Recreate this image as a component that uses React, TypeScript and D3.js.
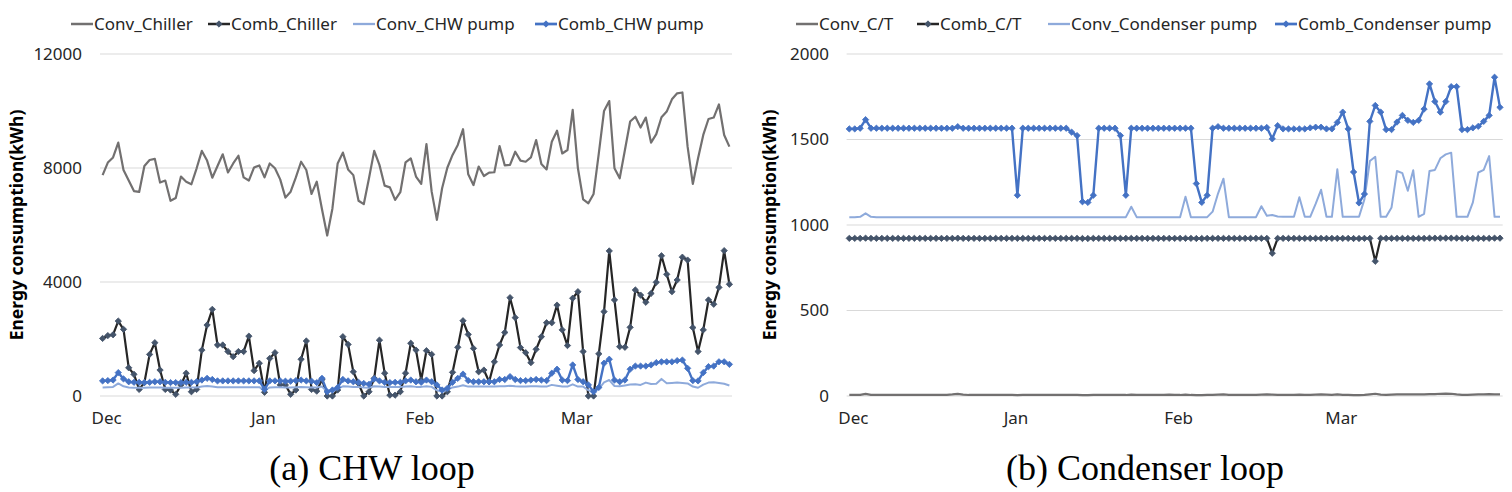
import * as d3 from "d3";

// daily categories, Dec 1 .. Mar 31
const days = d3.range(121);
const monthLabels = ["Dec", "Jan", "Feb", "Mar"];
const monthTickIdx = [0, 30, 60, 90];

// (a) CHW loop, kWh
const convChiller = [
  7750, 8190, 8370, 8890, 7930, 7560, 7190, 7160, 8070, 8280,
  8320, 7490, 7560, 6850, 6950, 7700, 7520, 7430, 7990, 8600,
  8260, 7660, 8070, 8480, 7840, 8160, 8430, 7670, 7560, 8020,
  8090, 7670, 8160, 7990, 7600, 6960, 7170, 7670, 8220, 7930,
  7090, 7520, 6550, 5630, 6580, 8160, 8540, 7950, 7750, 6850,
  6730, 7640, 8600, 8110, 7380, 7320, 6880, 7150, 8200, 8340,
  7700, 7440, 8840, 7170, 6180, 7290, 8010, 8460, 8810, 9360,
  7780, 7400, 8050, 7720, 7840, 7850, 8770, 8090, 8110, 8570,
  8260, 8220, 8370, 8980, 8140, 7950, 8920, 9310, 8510, 8630,
  10040, 7990, 6900, 6760, 7090, 8510, 10000, 10350, 7990, 7640,
  8630, 9630, 9800, 9420, 9770, 8890, 9190, 9780, 9980, 10410,
  10620, 10650, 8750, 7440, 8340, 9160, 9720, 9770, 10230, 9160, 8750,
];
const combChiller = [
  2020, 2120, 2150, 2630, 2340, 990, 760, 230, 470, 1460,
  1870, 910, 230, 210, 60, 390, 800, 150, 230, 1610,
  2490, 3040, 1790, 1790, 1560, 1380, 1560, 1560, 2100, 890,
  1150, 130, 1320, 1520, 390, 390, 60, 210, 1290, 1930,
  230, 170, 580, 0, 0, 210, 2080, 1810, 850, 440,
  0, 150, 620, 1960, 800, 30, 30, 150, 800, 1850,
  1610, 560, 1590, 1460, 0, 0, 150, 830, 1710, 2640,
  2160, 1670, 850, 910, 500, 1200, 1790, 2230, 3450, 2750,
  1700, 1520, 1170, 1640, 2080, 2570, 2570, 3190, 2320, 1770,
  3430, 3660, 1560, 0, 0, 1480, 2960, 5090, 3370, 1730,
  1710, 2410, 3720, 3540, 3290, 3600, 3990, 4920, 4270, 3660,
  4070, 4870, 4770, 2400, 1560, 2320, 3370, 3220, 3810, 5100, 3920,
];
const convChwPump = [
  300, 310, 320, 440, 340, 300, 290, 290, 290, 300,
  300, 300, 290, 290, 290, 290, 300, 300, 300, 330,
  350, 330, 310, 310, 310, 310, 310, 310, 310, 310,
  310, 200, 300, 310, 310, 300, 300, 310, 320, 310,
  300, 300, 330, 150, 170, 260, 340, 330, 320, 320,
  300, 290, 340, 330, 320, 320, 320, 320, 330, 340,
  320, 320, 340, 320, 200, 150, 220, 300, 330, 380,
  330, 330, 330, 330, 330, 330, 340, 340, 360, 340,
  330, 330, 340, 340, 330, 330, 390, 360, 330, 330,
  410, 330, 330, 200, 150, 250, 480, 560, 350, 340,
  370, 400, 410, 390, 470, 420, 430, 600, 450, 460,
  470, 460, 440, 330, 290, 400, 470, 480, 460, 430, 370,
];
const combChwPump = [
  530, 540, 560, 820, 600, 500, 480, 480, 470, 480,
  500, 500, 480, 470, 470, 470, 480, 480, 500, 560,
  620, 580, 530, 530, 530, 530, 530, 530, 530, 530,
  530, 230, 530, 530, 530, 520, 520, 540, 560, 530,
  520, 470, 620, 150, 210, 300, 580, 530, 500, 480,
  440, 410, 600, 530, 480, 470, 480, 480, 530, 560,
  500, 480, 560, 500, 390, 210, 270, 480, 620, 770,
  540, 500, 500, 500, 500, 500, 580, 580, 680, 580,
  540, 540, 560, 580, 560, 540, 800, 940, 560, 540,
  1090, 580, 500, 390, 150, 300, 1150, 1290, 560, 500,
  560, 940, 1050, 1050, 1050, 1090, 1170, 1200, 1200, 1200,
  1240, 1260, 970, 540, 530, 820, 1030, 1050, 1200, 1200, 1110,
];

// (b) Condenser loop, kWh
const convCT = [
  6, 6, 7, 12, 7, 6, 6, 6, 6, 6,
  6, 6, 6, 6, 6, 6, 6, 6, 7, 9,
  12, 8, 6, 6, 6, 6, 6, 6, 6, 6,
  6, 5, 6, 6, 6, 6, 6, 6, 6, 6,
  6, 6, 6, 5, 5, 6, 7, 7, 6, 6,
  6, 6, 8, 7, 6, 6, 6, 6, 7, 8,
  7, 6, 8, 6, 5, 5, 6, 7, 8, 9,
  7, 7, 7, 7, 7, 7, 8, 9, 8, 7,
  7, 7, 7, 8, 7, 7, 8, 9, 8, 7,
  9, 7, 6, 5, 5, 7, 10, 13, 8, 7,
  8, 9, 9, 9, 9, 9, 10, 11, 11, 13,
  14, 13, 9, 7, 7, 8, 9, 10, 11, 10, 9,
];
const combCT = [
  922, 922, 922, 923, 922, 922, 922, 922, 922, 922,
  922, 922, 922, 922, 922, 922, 922, 922, 922, 922,
  923, 922, 922, 922, 922, 922, 922, 922, 922, 922,
  922, 922, 922, 922, 922, 922, 922, 922, 922, 922,
  922, 922, 922, 921, 921, 922, 922, 922, 922, 922,
  922, 922, 922, 922, 922, 922, 922, 922, 922, 922,
  922, 922, 922, 922, 921, 921, 922, 922, 922, 922,
  922, 922, 922, 922, 922, 922, 922, 922, 835, 922,
  922, 922, 922, 922, 922, 922, 922, 922, 922, 922,
  922, 922, 922, 921, 921, 922, 922, 788, 922, 922,
  922, 922, 922, 922, 922, 922, 922, 923, 923, 923,
  923, 923, 923, 922, 922, 922, 922, 922, 922, 923, 923,
];
const convCondPump = [
  1045, 1045, 1048, 1068, 1048, 1046, 1046, 1046, 1046, 1046,
  1046, 1046, 1046, 1046, 1046, 1046, 1046, 1046, 1046, 1046,
  1046, 1046, 1046, 1046, 1046, 1046, 1046, 1046, 1046, 1046,
  1046, 1046, 1046, 1046, 1046, 1046, 1046, 1046, 1046, 1046,
  1046, 1046, 1046, 1046, 1046, 1046, 1046, 1046, 1046, 1046,
  1046, 1046, 1107, 1046, 1046, 1046, 1046, 1046, 1046, 1046,
  1046, 1046, 1165, 1046, 1046, 1046, 1046, 1078, 1184, 1271,
  1046, 1046, 1046, 1046, 1046, 1046, 1110, 1054, 1058, 1050,
  1048, 1048, 1048, 1162, 1048, 1048, 1123, 1206, 1048, 1048,
  1326, 1048, 1048, 1048, 1048, 1150, 1374, 1399, 1048, 1048,
  1103, 1316, 1303, 1200, 1320, 1048, 1065, 1316, 1322, 1390,
  1413, 1423, 1048, 1048, 1048, 1132, 1307, 1322, 1403, 1048, 1048,
];
const combCondPump = [
  1562, 1562, 1566, 1616, 1566, 1566, 1566, 1566, 1566, 1566,
  1566, 1566, 1566, 1566, 1566, 1566, 1566, 1566, 1566, 1566,
  1575, 1566, 1566, 1566, 1566, 1566, 1566, 1566, 1566, 1566,
  1566, 1174, 1566, 1566, 1566, 1566, 1566, 1566, 1566, 1566,
  1566, 1543, 1523, 1136, 1132, 1174, 1566, 1566, 1566, 1566,
  1523, 1174, 1566, 1566, 1566, 1566, 1566, 1566, 1566, 1566,
  1566, 1566, 1566, 1566, 1242, 1132, 1174, 1566, 1575, 1566,
  1566, 1566, 1566, 1566, 1566, 1566, 1566, 1570, 1504, 1581,
  1562, 1562, 1562, 1562, 1562, 1568, 1572, 1572, 1562, 1562,
  1600, 1660, 1562, 1310, 1129, 1181, 1606, 1699, 1660, 1558,
  1558, 1602, 1641, 1612, 1600, 1612, 1678, 1825, 1722, 1660,
  1722, 1809, 1809, 1558, 1558, 1568, 1577, 1606, 1641, 1864, 1688,
];

const chwTicks = [0, 4000, 8000, 12000];
const condTicks = [0, 500, 1000, 1500, 2000];

const FONT = "'Noto Sans', 'Open Sans', sans-serif";
const TEXT = "#262626";
const GRAY = "#727070";
const DARK = "#262626";
const SLATE = "#44546a";
const LIGHT = "#8eaadb";
const BLUE = "#4472c4";

type Series = {
  name: string;
  values: number[];
  color: string;
  width: number;
  marker?: string;
};

const chwSeries: Series[] = [
  { name: "Conv_Chiller", values: convChiller, color: GRAY, width: 2.2 },
  { name: "Comb_Chiller", values: combChiller, color: DARK, width: 2.2, marker: SLATE },
  { name: "Conv_CHW pump", values: convChwPump, color: LIGHT, width: 2 },
  { name: "Comb_CHW pump", values: combChwPump, color: BLUE, width: 2.4, marker: BLUE },
];
const condSeries: Series[] = [
  { name: "Conv_C/T", values: convCT, color: GRAY, width: 2.2 },
  { name: "Comb_C/T", values: combCT, color: DARK, width: 2.2, marker: SLATE },
  { name: "Conv_Condenser pump", values: convCondPump, color: LIGHT, width: 2 },
  { name: "Comb_Condenser pump", values: combCondPump, color: BLUE, width: 2.4, marker: BLUE },
];

const marker = d3.symbol().type(d3.symbolSquare).size(20)();

function Panel({
  left,
  right,
  labelX,
  titleX,
  yMax,
  ticks,
  series,
  legendX,
  caption,
  captionX,
}: {
  left: number;
  right: number;
  labelX: number;
  titleX: number;
  yMax: number;
  ticks: number[];
  series: Series[];
  legendX: number[];
  caption: string;
  captionX: number;
}) {
  const x = d3.scaleLinear().domain([-0.5, days.length - 0.5]).range([left, right]);
  const y = d3.scaleLinear().domain([0, yMax]).range([396, 54]);
  const plotMid = (y(0) + y(yMax)) / 2;

  return (
    <g>
      {ticks.map((t) => (
        <g key={t}>
          <line x1={left} x2={right} y1={y(t)} y2={y(t)} stroke="#d9d9d9" strokeWidth={1.2} />
          <text
            x={labelX}
            y={y(t)}
            dy="0.35em"
            textAnchor="end"
            fontFamily={FONT}
            fontSize={17}
            fill={TEXT}
          >
            {t}
          </text>
        </g>
      ))}
      <text
        transform={`translate(${titleX},${plotMid}) rotate(-90)`}
        textAnchor="middle"
        dy="0.35em"
        fontFamily={FONT}
        fontWeight="bold"
        fontSize={17.5}
        fill="#000"
      >
        Energy consumption(kWh)
      </text>
      {monthTickIdx.map((d, i) => (
        <text
          key={d}
          x={x(d) + 4}
          y={424}
          textAnchor="middle"
          fontFamily={FONT}
          fontSize={17}
          fill={TEXT}
        >
          {monthLabels[i]}
        </text>
      ))}
      {series.map((s) => {
        const line = d3
          .line<number>()
          .x((_, i) => x(days[i]))
          .y((v) => y(v));
        return (
          <g key={s.name}>
            <path d={line(s.values) || ""} fill="none" stroke={s.color} strokeWidth={s.width} strokeLinejoin="round" />
            {s.marker &&
              s.values.map((v, i) => (
                <path
                  key={i}
                  d={marker || ""}
                  transform={`translate(${x(days[i])},${y(v)}) rotate(45)`}
                  fill={s.marker}
                  stroke={s.marker}
                  strokeWidth={0.8}
                />
              ))}
          </g>
        );
      })}
      {series.map((s, i) => (
        <g key={s.name} transform={`translate(${legendX[i]},24)`}>
          <line x1={0} x2={22} y1={0} y2={0} stroke={s.color} strokeWidth={s.width + 0.3} />
          {s.marker && (
            <path d={marker || ""} transform="translate(11,0) rotate(45)" fill={s.marker} stroke={s.marker} strokeWidth={0.8} />
          )}
          <text x={23} dy="0.35em" fontFamily={FONT} fontSize={17} fill={TEXT}>
            {s.name}
          </text>
        </g>
      ))}
      <text
        x={captionX}
        y={480}
        textAnchor="middle"
        fontFamily="'Liberation Serif', 'Times New Roman', serif"
        fontSize={36}
        fill="#000"
      >
        {caption}
      </text>
    </g>
  );
}

export default function App() {
  return (
    <svg
      width={1512}
      height={492}
      style={{ position: "absolute", left: 0, top: 0, background: "#fff" }}
    >
      <rect width={1512} height={492} fill="#fff" />
      <Panel
        left={100}
        right={732}
        labelX={82}
        titleX={17}
        yMax={12000}
        ticks={chwTicks}
        series={chwSeries}
        legendX={[71, 208, 353, 535]}
        caption="(a) CHW loop"
        captionX={372}
      />
      <Panel
        left={846.6}
        right={1502.7}
        labelX={829}
        titleX={770}
        yMax={2000}
        ticks={condTicks}
        series={condSeries}
        legendX={[796, 917, 1048, 1275]}
        caption="(b) Condenser loop"
        captionX={1145}
      />
    </svg>
  );
}
